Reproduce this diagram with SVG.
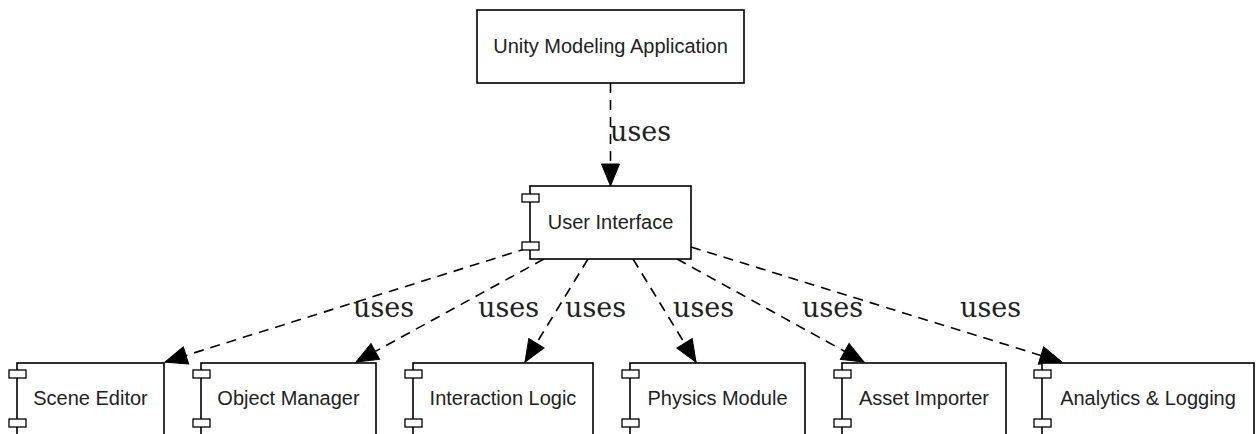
<svg xmlns="http://www.w3.org/2000/svg" width="1259" height="434" viewBox="0 0 1259 434">
<style>
.box{fill:#fff;stroke:#000;stroke-width:1.6}
.port{fill:#fff;stroke:#000;stroke-width:1.3}
.lbl{font-family:"Liberation Sans",Arial,sans-serif;font-size:20px;fill:#222;text-anchor:middle}
.edge{fill:none;stroke:#000;stroke-width:1.6;stroke-dasharray:10,7;marker-end:url(#ah)}
.use{font-family:"DejaVu Serif",serif;font-size:27px;fill:#222}
</style>
<defs>
<marker id="ah" markerUnits="userSpaceOnUse" markerWidth="23" markerHeight="19" refX="22" refY="9" orient="auto" overflow="visible">
<path d="M0,0 L22,9 L0,18 z" fill="#000" stroke="#000" stroke-width="1"/>
</marker>
</defs>
<rect width="1259" height="434" fill="#fff"/>
<g id="connectors">
<line class="edge" x1="610.5" y1="83" x2="610.5" y2="186"/>
<line class="edge" x1="528" y1="248" x2="165" y2="362"/>
<line class="edge" x1="544" y1="259" x2="356" y2="362"/>
<line class="edge" x1="588" y1="259" x2="525" y2="362"/>
<line class="edge" x1="633" y1="259" x2="696" y2="362"/>
<line class="edge" x1="677" y1="259" x2="864" y2="362"/>
<line class="edge" x1="691" y1="247" x2="1062" y2="362"/>
<text class="use" x="610" y="141">uses</text>
<text class="use" x="353" y="317">uses</text>
<text class="use" x="478" y="317">uses</text>
<text class="use" x="565" y="317">uses</text>
<text class="use" x="673" y="317">uses</text>
<text class="use" x="802" y="317">uses</text>
<text class="use" x="960" y="317">uses</text>
</g>
<g id="unity-app">
<rect class="box" x="477" y="10" width="267" height="73"/>
<text class="lbl" x="610.5" y="53">Unity Modeling Application</text>
</g>
<g id="user-interface">
<rect class="box" x="530" y="186" width="161" height="73"/>
<rect class="port" x="522" y="194" width="17" height="8"/>
<rect class="port" x="522" y="242" width="17" height="8"/>
<text class="lbl" x="610.5" y="229">User Interface</text>
</g>
<g id="scene-editor">
<rect class="box" x="17" y="363" width="147" height="73"/>
<rect class="port" x="9" y="370" width="17" height="8"/>
<rect class="port" x="9" y="419" width="17" height="8"/>
<text class="lbl" x="90.5" y="405">Scene Editor</text>
</g>
<g id="object-manager">
<rect class="box" x="201" y="363" width="175" height="73"/>
<rect class="port" x="193" y="370" width="17" height="8"/>
<rect class="port" x="193" y="419" width="17" height="8"/>
<text class="lbl" x="288.5" y="405">Object Manager</text>
</g>
<g id="interaction-logic">
<rect class="box" x="413" y="363" width="180" height="73"/>
<rect class="port" x="405" y="370" width="17" height="8"/>
<rect class="port" x="405" y="419" width="17" height="8"/>
<text class="lbl" x="503" y="405">Interaction Logic</text>
</g>
<g id="physics-module">
<rect class="box" x="630" y="363" width="175" height="73"/>
<rect class="port" x="622" y="370" width="17" height="8"/>
<rect class="port" x="622" y="419" width="17" height="8"/>
<text class="lbl" x="717.5" y="405">Physics Module</text>
</g>
<g id="asset-importer">
<rect class="box" x="842" y="363" width="164" height="73"/>
<rect class="port" x="834" y="370" width="17" height="8"/>
<rect class="port" x="834" y="419" width="17" height="8"/>
<text class="lbl" x="924" y="405">Asset Importer</text>
</g>
<g id="analytics-logging">
<rect class="box" x="1042" y="363" width="212" height="73"/>
<rect class="port" x="1034" y="370" width="17" height="8"/>
<rect class="port" x="1034" y="419" width="17" height="8"/>
<text class="lbl" x="1148" y="405">Analytics &amp; Logging</text>
</g>
</svg>
